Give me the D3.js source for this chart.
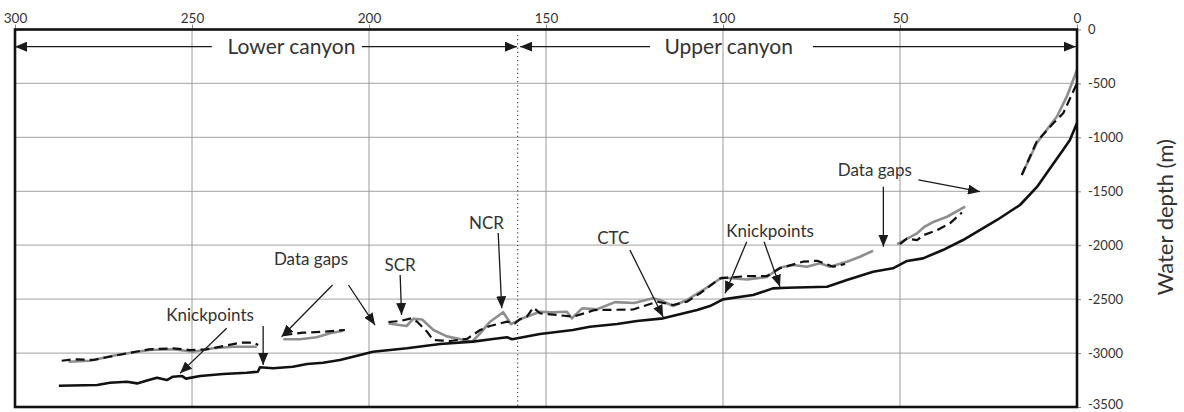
<!DOCTYPE html>
<html>
<head>
<meta charset="utf-8">
<script src="https://cdn.jsdelivr.net/npm/d3@7/dist/d3.min.js"></script>
<style>
  html, body { margin: 0; padding: 0; background: #fff; }
  svg { display: block; font-family: Lato, "Open Sans", sans-serif; }
</style>
</head>
<body>
<svg id="chart" width="1184" height="412"></svg>
<script>
// Along-canyon distance (km, from the head) and water depth (m)
const distanceTicks = [300, 250, 200, 150, 100, 50, 0];
const depthTicks = [0, -500, -1000, -1500, -2000, -2500, -3000, -3500];
const canyonBoundaryKm = 158;

// Thalweg (solid black)
const thalweg = [
  [287.6,-3303],[276.8,-3296],[273.2,-3275],[268.4,-3266],[265.5,-3281],[262.7,-3254],
  [259.9,-3229],[257.1,-3250],[255.4,-3219],[252.8,-3213],[251.7,-3237],[247.7,-3213],
  [241.2,-3194],[234.5,-3182],[231.4,-3173],[230.8,-3132],[227.1,-3141],[221.5,-3127],
  [217.5,-3101],[213.0,-3089],[208.2,-3064],[204.5,-3034],[202.5,-3018],[198.9,-2987],
  [189.3,-2956],[179.9,-2916],[170.6,-2894],[165.0,-2870],[161.0,-2854],[159.6,-2872],
  [151.7,-2823],[142.4,-2786],[137.6,-2756],[129.9,-2731],[124.3,-2703],[116.9,-2678],
  [107.3,-2601],[103.7,-2564],[100.0,-2502],[91.5,-2462],[85.9,-2400],[81.9,-2394],
  [70.6,-2385],[65.0,-2322],[57.6,-2246],[52.0,-2214],[48.0,-2146],[43.5,-2122],
  [37.9,-2045],[32.2,-1952],[22.6,-1766],[16.1,-1627],[11.3,-1460],[6.8,-1250],
  [4.0,-1120],[2.0,-1025],[0,-867]
];

// Dashed black profile, split at the data gaps
const dashedProfile = [
  [[286.8,-3071],[283.5,-3058],[277.9,-3064],[274.1,-3039],[268.4,-3002],[262.1,-2965],
   [255.3,-2956],[250.6,-2972],[245.8,-2965],[241.2,-2935],[236.4,-2904],[232.7,-2904],[231.3,-2925]],
  [[224.2,-2833],[218.6,-2811],[212.9,-2802],[206.8,-2786]],
  [[194.5,-2712],[191.2,-2703],[188.1,-2678],[186.4,-2709],[183.6,-2802],[181.9,-2879],
   [177.1,-2888],[172.3,-2868],[168.6,-2786],[165.8,-2749],[161.0,-2709],[158.8,-2724],
   [157.3,-2684],[155.4,-2663],[153.6,-2578],[151.7,-2631],[146.9,-2647],[142.4,-2663],
   [136.2,-2601],[125.4,-2596],[118.6,-2524],[114.1,-2554],[110.2,-2524],[106.5,-2446],
   [100.8,-2307],[93.2,-2286],[87.6,-2286],[83.9,-2214],[77.4,-2153],[73.4,-2144],
   [68.9,-2199],[65.5,-2174]],
  [[50.0,-1989],[48.1,-1938],[45.2,-1952],[43.2,-1905],[39.5,-1859],[35.9,-1797],[32.5,-1697]],
  [[15.6,-1349],[11.4,-1040],[6.7,-870],[3.9,-777],[0,-499]]
];

// Grey profile, split at the data gaps
const greyProfile = [
  [[284.9,-3080],[278.8,-3071],[271.3,-3018],[262.1,-2972],[255.3,-2965],[249.6,-2987],
   [244.0,-2956],[238.3,-2941],[231.7,-2941]],
  [[224.2,-2872],[219.5,-2872],[214.8,-2854],[211.0,-2817],[207.3,-2793]],
  [[194.5,-2726],[189.4,-2749],[187.5,-2682],[185.0,-2689],[181.8,-2786],[178.0,-2845],
   [170.9,-2895],[168.6,-2817],[165.8,-2709],[162.1,-2621],[159.9,-2731],[156.8,-2680],
   [151.7,-2617],[148.3,-2621],[144.1,-2617],[142.7,-2678],[139.8,-2585],[135.6,-2594],
   [130.5,-2528],[125.1,-2536],[119.8,-2492],[117.8,-2508],[114.1,-2564],[110.2,-2508],
   [105.6,-2415],[100.3,-2299],[93.2,-2318],[87.6,-2295],[83.9,-2207],[80.2,-2184],
   [76.3,-2199],[72.6,-2168],[69.8,-2199],[65.0,-2153],[61.3,-2107],[57.6,-2051]],
  [[50.8,-1989],[45.2,-1890],[43.2,-1831],[40.4,-1782],[36.7,-1736],[31.6,-1643]],
  [[15.6,-1349],[11.4,-1055],[8.6,-932],[5.7,-809],[2.9,-623],[0,-375]]
];

// Section labels and their extent arrows along the top
const sectionLabels = [
  { text: "Lower canyon", km: 221.9, depth: -159 },
  { text: "Upper canyon", km: 98.4, depth: -159 }
];
const sectionArrows = [
  { from: [244.4, -159], to: [300, -159] },
  { from: [202.0, -159], to: [158.2, -159] },
  { from: [120.6, -159], to: [157.3, -159] },
  { from: [74.6, -159], to: [0.3, -159] }
];

// Feature callouts
const calloutLabels = [
  { text: "Knickpoints", km: 244.9, depth: -2647 },
  { text: "Data gaps", km: 216.4, depth: -2131 },
  { text: "SCR", km: 191.2, depth: -2184 },
  { text: "NCR", km: 166.8, depth: -1797 },
  { text: "CTC", km: 131.0, depth: -1936 },
  { text: "Knickpoints", km: 86.7, depth: -1868 },
  { text: "Data gaps", km: 57.1, depth: -1303 }
];
const calloutArrows = [
  { from: [240.2, -2770], to: [253.4, -3188] },
  { from: [229.9, -2749], to: [229.9, -3111] },
  { from: [210.3, -2369], to: [224.7, -2848] },
  { from: [205.8, -2369], to: [198.3, -2740] },
  { from: [191.2, -2276], to: [190.8, -2647] },
  { from: [163.5, -1887], to: [162.5, -2585] },
  { from: [126.3, -2044], to: [116.9, -2666] },
  { from: [93.3, -1968], to: [99.4, -2446] },
  { from: [88.4, -1968], to: [83.9, -2385] },
  { from: [54.7, -1458], to: [54.7, -2014] },
  { from: [44.8, -1395], to: [27.4, -1504] }
];

const svg = d3.select("#chart");
const x = d3.scaleLinear().domain([300, 0]).range([15, 1077]);
const y = d3.scaleLinear().domain([0, -3500]).range([29.5, 407]);

// Arrowhead
const defs = svg.append("defs");
defs.append("marker")
  .attr("id", "head")
  .attr("viewBox", "0 0 12 10")
  .attr("refX", 12).attr("refY", 5)
  .attr("markerWidth", 12).attr("markerHeight", 10)
  .attr("markerUnits", "userSpaceOnUse")
  .attr("orient", "auto")
  .append("path").attr("d", "M0,0 L12,5 L0,10 Z").attr("fill", "#1a1a1a");

// Grid
const grid = svg.append("g").attr("stroke", "#b4b4b4").attr("stroke-width", 1.2);
grid.selectAll("line.h").data(depthTicks.filter(d => d !== 0 && d !== -3500)).join("line")
  .attr("x1", x(300)).attr("x2", x(0)).attr("y1", d => y(d)).attr("y2", d => y(d));
grid.selectAll("line.v").data(distanceTicks.filter(d => d !== 0 && d !== 300)).join("line")
  .attr("stroke", "#9a9a9a").attr("stroke-width", 1)
  .attr("y1", y(0)).attr("y2", y(-3500)).attr("x1", d => x(d)).attr("x2", d => x(d));

// Top axis (distance)
const xAxis = d3.axisTop(x).tickValues(distanceTicks).tickSize(5).tickPadding(2);
const gx = svg.append("g").attr("transform", `translate(0,${y(0)})`).call(xAxis);
gx.select(".domain").remove();
gx.selectAll(".tick line").attr("stroke", "#888");
gx.selectAll(".tick text").attr("font-size", 13.5).attr("fill", "#333")
  .attr("font-family", "Lato, sans-serif");

// Right axis (depth), labels written with a plain hyphen-minus
const yAxis = d3.axisRight(y).tickValues(depthTicks).tickSize(4).tickPadding(7);
const gy = svg.append("g").attr("transform", `translate(${x(0)},0)`).call(yAxis);
gy.select(".domain").remove();
gy.selectAll(".tick line").attr("stroke", "#888");
gy.selectAll(".tick text").attr("font-size", 13).attr("fill", "#333")
  .attr("font-family", "Lato, sans-serif")
  .attr("dy", d => d === -3500 ? "0.15em" : "0.32em")
  .text(d => (d < 0 ? "-" : "") + Math.abs(d));

svg.append("text")
  .attr("transform", `translate(1165,${(y(0) + y(-3500)) / 2 - 1}) rotate(-90)`)
  .attr("text-anchor", "middle").attr("dy", "0.35em")
  .attr("font-size", 22).attr("fill", "#333")
  .text("Water depth (m)");

// Boundary between lower and upper canyon
svg.append("line")
  .attr("x1", x(canyonBoundaryKm)).attr("x2", x(canyonBoundaryKm))
  .attr("y1", y(-50)).attr("y2", y(-3500))
  .attr("stroke", "#444").attr("stroke-width", 1.2).attr("stroke-dasharray", "1.2,3");

// Profiles
const line = d3.line().x(d => x(d[0])).y(d => y(d[1]));
svg.append("g").selectAll("path").data(greyProfile).join("path")
  .attr("d", line).attr("fill", "none").attr("stroke", "#8e8e8e")
  .attr("stroke-width", 2.6).attr("stroke-linejoin", "round");
svg.append("g").selectAll("path").data(dashedProfile).join("path")
  .attr("d", line).attr("fill", "none").attr("stroke", "#111")
  .attr("stroke-width", 2.2).attr("stroke-dasharray", "9,5").attr("stroke-linejoin", "round");
svg.append("path").datum(thalweg)
  .attr("d", line).attr("fill", "none").attr("stroke", "#111")
  .attr("stroke-width", 2.6).attr("stroke-linejoin", "round");

// Frame
svg.append("rect")
  .attr("x", x(300)).attr("y", y(0))
  .attr("width", x(0) - x(300)).attr("height", y(-3500) - y(0))
  .attr("fill", "none").attr("stroke", "#111").attr("stroke-width", 2.6);

// Section labels and arrows
svg.append("g").selectAll("line").data(sectionArrows).join("line")
  .attr("x1", d => x(d.from[0])).attr("y1", d => y(d.from[1]))
  .attr("x2", d => x(d.to[0])).attr("y2", d => y(d.to[1]))
  .attr("stroke", "#1a1a1a").attr("stroke-width", 1.4).attr("marker-end", "url(#head)");
svg.append("g").selectAll("text").data(sectionLabels).join("text")
  .attr("x", d => x(d.km)).attr("y", d => y(d.depth)).attr("dy", "0.35em")
  .attr("text-anchor", "middle").attr("font-size", 21).attr("fill", "#333")
  .text(d => d.text);

// Callouts
svg.append("g").selectAll("line").data(calloutArrows).join("line")
  .attr("x1", d => x(d.from[0])).attr("y1", d => y(d.from[1]))
  .attr("x2", d => x(d.to[0])).attr("y2", d => y(d.to[1]))
  .attr("stroke", "#1a1a1a").attr("stroke-width", 1.3).attr("marker-end", "url(#head)");
svg.append("g").selectAll("text").data(calloutLabels).join("text")
  .attr("x", d => x(d.km)).attr("y", d => y(d.depth)).attr("dy", "0.35em")
  .attr("text-anchor", "middle").attr("font-size", 17).attr("fill", "#333")
  .text(d => d.text);
</script>
</body>
</html>
